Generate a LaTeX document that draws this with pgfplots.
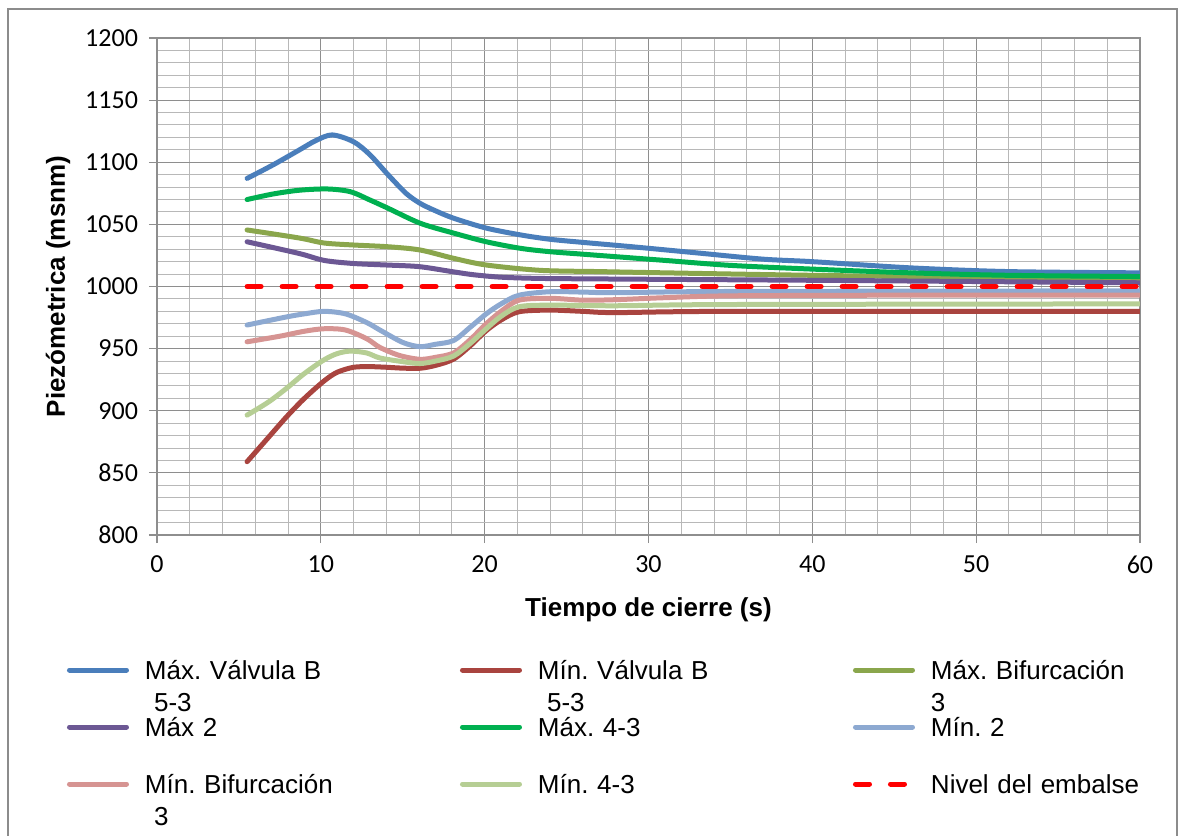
\documentclass[border=0pt]{standalone}
\usepackage{pgfplots}
\pgfplotsset{compat=1.18}
\usepackage{fontspec}
\setmainfont{Liberation Sans}
\newfontfamily\calibri{Carlito}
\frenchspacing
\definecolor{cBlue}{HTML}{4A7EBB}
\definecolor{cDRed}{HTML}{A9443F}
\definecolor{cOlive}{HTML}{8AA64C}
\definecolor{cPurple}{HTML}{6C5894}
\definecolor{cGreen}{HTML}{00B050}
\definecolor{cLBlue}{HTML}{8DA9D1}
\definecolor{cPink}{HTML}{D69492}
\definecolor{cLGreen}{HTML}{B6CE94}
\definecolor{cFrame}{HTML}{8C8C8C}
\definecolor{cMaj}{HTML}{8E8E8E}
\definecolor{cMin}{HTML}{B8B8B8}
\begin{document}
\begin{tikzpicture}
\useasboundingbox (-78.5pt,-150.5pt) rectangle (511.5pt,267.5pt);
\draw[line width=1pt, color=cFrame] (-74.5pt,-160pt) rectangle (510pt,263pt);
\begin{axis}[
  at={(0pt,0pt)}, anchor=south west,
  scale only axis, width=491.5pt, height=248.5pt,
  xmin=0, xmax=60, ymin=800, ymax=1200,
  xtick={0,10,...,60}, ytick={800,850,...,1200},
  minor x tick num=4, minor y tick num=4,
  grid=both,
  major grid style={draw=cMaj, line width=0.6pt},
  minor grid style={draw=cMin, line width=0.5pt},
  axis line style={draw=cMaj, line width=0.6pt},
  tick style={draw=cMaj, line width=0.6pt},
  major tick length=4pt, minor tick length=0pt,
  tick align=outside, xtick pos=bottom, ytick pos=left,
  /pgf/number format/assume math mode=true,
  /pgf/number format/1000 sep={},
  tick label style={font=\calibri\fontsize{13}{15}\selectfont},
  xticklabel style={yshift=-3pt},
  yticklabel style={xshift=-2pt},
  xlabel={Tiempo de cierre (s)},
  ylabel={Piezómetrica (msnm)},
  xlabel style={at={(axis description cs:0.5,-0.1509)}, anchor=center, font=\bfseries\fontsize{13}{15}\selectfont},
  ylabel style={at={(axis description cs:-0.1007,0.5)}, anchor=center, font=\bfseries\fontsize{13}{15}\selectfont},
  legend columns=3,
  legend image code/.code={\draw[#1] (0pt,4.5pt) -- (28.5pt,4.5pt);},
  legend style={at={(axis description cs:0,0)}, anchor=north west,
    xshift=-45pt, yshift=-62pt, draw=none, fill=none,
    inner sep=0pt, outer sep=0pt, row sep=0pt, column sep=0pt,
    cells={anchor=base west},
    nodes={anchor=base west, text width=157.5pt, align=left, inner sep=0pt,
      font=\fontsize{13}{13.5}\selectfont,
      text height=10pt, text depth=18.5pt},
    /tikz/every odd column/.append style={column sep=8pt}},
  every axis plot/.append style={line width=2.5pt, line cap=round, smooth, no markers},
]
\addplot[cBlue] coordinates {(5.5,1087) (7.1,1098) (8.7,1110) (9.7,1117.5) (10.7,1122) (12,1116.5) (13,1106) (14.1,1090) (15.2,1075) (16.05,1067) (16.9,1061.5) (18.1,1055) (20.1,1047) (22.2,1041.5) (24,1038) (26,1035.5) (29,1032) (33,1027) (37,1022) (40,1020) (46,1015) (52,1012) (60,1011)};
\addlegendentry{Máx. Válvula B\\[2.5pt]\hspace*{0.35em}5-3}
\addplot[cDRed] coordinates {(5.5,859) (6.7,877) (7.9,895) (9,910) (10.2,924) (11,931) (12,935) (13,935.5) (14,935) (15,934.3) (16.05,934.2) (17,936.5) (18.1,941.5) (19.1,952) (20.1,964.5) (21,973) (22.1,979.7) (24,981) (26,980) (28,979) (35,980) (60,980)};
\addlegendentry{Mín. Válvula B\\[2.5pt]\hspace*{0.35em}5-3}
\addplot[cOlive] coordinates {(5.5,1045.5) (8.7,1039) (10.2,1035) (12,1033.4) (14.1,1032) (16.05,1029.4) (18.1,1022.7) (20.1,1017.3) (23.4,1013) (27,1012) (31,1011) (40,1009) (52,1007) (60,1006)};
\addlegendentry{Máx. Bifurcación\\[2.5pt]3}
\addplot[cPurple] coordinates {(5.5,1036) (8.7,1026.5) (10.2,1021) (12,1018.5) (14,1017.3) (16,1016) (18,1012) (19.3,1009.5) (21,1007.5) (23.4,1006.5) (28,1006) (40,1005) (50,1004) (60,1003)};
\addlegendentry{Máx 2}
\addplot[cGreen] coordinates {(5.5,1070) (7.1,1074.5) (8.7,1077.5) (10.4,1078.5) (11.8,1076.3) (13,1069.6) (14.1,1063) (16.05,1051) (18.1,1043) (20.1,1036) (22.2,1030.7) (24,1028) (26,1026) (31,1021) (35,1017) (40,1014) (46,1011) (52,1009) (60,1008)};
\addlegendentry{Máx. 4-3}
\addplot[cLBlue] coordinates {(5.5,969) (7.9,975.5) (9,978) (10.2,980) (11.5,978) (12.8,971) (13.6,965) (15,955) (16.05,951.6) (17,953.5) (18.1,956.5) (19.1,967) (20.1,978) (21,986) (22.1,993) (24,995.8) (26,995.5) (28,995) (35,996) (60,996.5)};
\addlegendentry{Mín. 2}
\addplot[cPink] coordinates {(5.5,955.5) (7.5,960) (9,964) (10.2,966) (11.5,965) (12.8,958) (13.6,951) (14.8,944.5) (16.05,941.4) (17,943) (18.1,946.5) (19.1,957) (20.1,970) (21,980) (22.1,989) (24,990.5) (26,989) (28,989.4) (31,991) (35,992.5) (45,993) (60,993)};
\addlegendentry{Mín. Bifurcación\\[2.5pt]\hspace*{0.35em}3}
\addplot[cLGreen] coordinates {(5.5,896.5) (6.8,907) (7.9,918) (9,930) (10.2,941) (11,946) (11.8,948) (12.8,946.5) (13.6,942.5) (15,939.5) (16.05,938) (17,940) (18.1,944) (19.1,954) (20.1,966) (21,976) (22.1,983.7) (24,985) (28,984.5) (35,985.5) (60,986)};
\addlegendentry{Mín. 4-3}
\addplot[red, dash pattern=on 7pt off 10.5pt] coordinates {(5.5,1000) (60,1000)};
\addlegendentry{Nivel del embalse}
\end{axis}
\end{tikzpicture}
\end{document}
